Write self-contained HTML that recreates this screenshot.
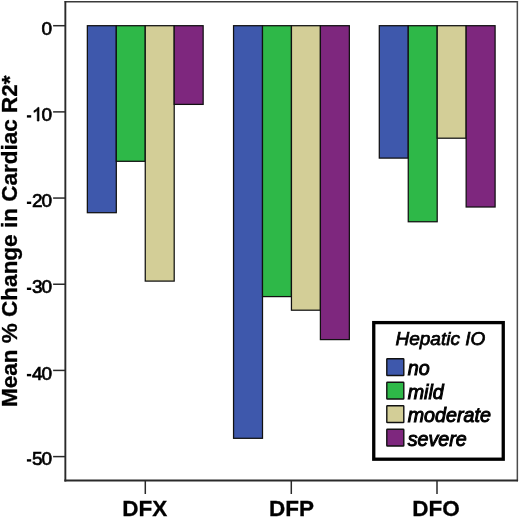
<!DOCTYPE html>
<html>
<head>
<meta charset="utf-8">
<style>
html,body{margin:0;padding:0;background:#fff;width:520px;height:518px;overflow:hidden;}
svg{display:block;will-change:transform;filter:blur(0.3px);}
text{font-family:"Liberation Sans",sans-serif;}
.tl text{font-size:19.0px;}
.tl{fill:#000;stroke:#000;stroke-width:0.7px;}
.tl path{stroke-width:75.5px;}
.cat{font-size:22.5px;font-weight:bold;fill:#000;stroke:#000;stroke-width:0.3px;}
.ttl{font-size:22.5px;font-weight:bold;fill:#000;stroke:#000;stroke-width:0.3px;}
.lg{font-size:19.7px;font-style:italic;fill:#000;stroke:#000;stroke-width:0.95px;}
.lh{font-size:19px;font-style:italic;fill:#000;stroke:#000;stroke-width:0.75px;}
</style>
</head>
<body>
<svg width="520" height="518" viewBox="0 0 520 518">
  <line x1="65.35" y1="1.75" x2="517.35" y2="1.75" stroke="#3a3a3a" stroke-width="1.4" stroke-linecap="square"/>
  <line x1="517.35" y1="1.75" x2="517.35" y2="480.5" stroke="#4c4c4c" stroke-width="1.5" stroke-linecap="square"/>
  <line x1="65.35" y1="1.05" x2="65.35" y2="481.5" stroke="#2a2a2a" stroke-width="1.9"/>
  <line x1="64.35" y1="480.5" x2="518.0500000000001" y2="480.5" stroke="#2a2a2a" stroke-width="1.9"/>
  <g stroke="#2a2a2a" stroke-width="1.5">
    <line x1="53.1" y1="25.70" x2="65.35" y2="25.70"/>
    <line x1="53.1" y1="111.88" x2="65.35" y2="111.88"/>
    <line x1="53.1" y1="198.06" x2="65.35" y2="198.06"/>
    <line x1="53.1" y1="284.24" x2="65.35" y2="284.24"/>
    <line x1="53.1" y1="370.42" x2="65.35" y2="370.42"/>
    <line x1="53.1" y1="456.60" x2="65.35" y2="456.60"/>
  </g>
  <g class="tl">
    <text x="41.48" y="34.80">0</text>
    <text x="41.48" y="121.00">0</text>
    <path transform="translate(31.91,121.00) scale(0.009277,-0.009277)" d="M763 0 L583 0 L583 1147 Q518 1085 416 1024 Q312 964 223 931 L223 1105 Q374 1176 485 1275 Q596 1374 645 1466 L763 1466 Z"/>
    <rect x="26.90" y="115.20" width="4.30" height="2.40" style="stroke:none"/>
    <text x="41.48" y="207.40">0</text>
    <text x="31.91" y="207.40">2</text>
    <rect x="26.90" y="201.60" width="4.30" height="2.40" style="stroke:none"/>
    <text x="41.48" y="293.40">0</text>
    <text x="31.91" y="293.40">3</text>
    <rect x="26.90" y="287.60" width="4.30" height="2.40" style="stroke:none"/>
    <text x="41.48" y="379.70">0</text>
    <text x="31.91" y="379.70">4</text>
    <rect x="26.90" y="373.90" width="4.30" height="2.40" style="stroke:none"/>
    <text x="41.48" y="465.00">0</text>
    <text x="31.91" y="465.00">5</text>
    <rect x="26.90" y="459.20" width="4.30" height="2.40" style="stroke:none"/>
  </g>
  <g stroke="#2a2a2a" stroke-width="1.5">
    <line x1="145.3" y1="480.5" x2="145.3" y2="494"/>
    <line x1="291.3" y1="480.5" x2="291.3" y2="494"/>
    <line x1="437.0" y1="480.5" x2="437.0" y2="494"/>
  </g>
  <g class="cat" text-anchor="middle">
    <text x="144.7" y="516.3">DFX</text>
    <text x="291.4" y="516.3">DFP</text>
    <text x="436.0" y="516.3">DFO</text>
  </g>
  <text class="ttl" transform="translate(17.3,406.9) rotate(-90)">Mean % Change in Cardiac R2*</text>
  <g stroke="#111" stroke-width="1.25">
    <rect x="87.35" y="25.70" width="28.95" height="187.00" fill="#3E58AC"/>
    <rect x="116.30" y="25.70" width="28.95" height="135.60" fill="#2EB848"/>
    <rect x="145.25" y="25.70" width="28.95" height="255.40" fill="#D3CE97"/>
    <rect x="174.20" y="25.70" width="28.95" height="78.70" fill="#7E277E"/>
    <rect x="233.55" y="25.70" width="28.95" height="412.60" fill="#3E58AC"/>
    <rect x="262.50" y="25.70" width="28.95" height="270.90" fill="#2EB848"/>
    <rect x="291.45" y="25.70" width="28.95" height="284.50" fill="#D3CE97"/>
    <rect x="320.40" y="25.70" width="28.95" height="313.90" fill="#7E277E"/>
    <rect x="379.30" y="25.70" width="28.95" height="132.40" fill="#3E58AC"/>
    <rect x="408.25" y="25.70" width="28.95" height="196.05" fill="#2EB848"/>
    <rect x="437.20" y="25.70" width="28.95" height="112.50" fill="#D3CE97"/>
    <rect x="466.15" y="25.70" width="28.95" height="181.30" fill="#7E277E"/>
  </g>
  <rect x="373.75" y="322.6" width="129.5" height="136.6" fill="#fff" stroke="#000" stroke-width="3.3"/>
  <text class="lh" x="395.5" y="344.8">Hepatic IO</text>
  <g stroke="#111" stroke-width="1.4">
    <rect x="386.8" y="358.70" width="17" height="16.8" rx="0.6" fill="#3E58AC"/>
    <rect x="386.8" y="382.20" width="17" height="16.8" rx="0.6" fill="#2EB848"/>
    <rect x="386.8" y="405.70" width="17" height="16.8" rx="0.6" fill="#D3CE97"/>
    <rect x="386.8" y="429.20" width="17" height="16.8" rx="0.6" fill="#7E277E"/>
  </g>
  <g class="lg">
    <text x="407.7" y="375.20">no</text>
    <text x="407.7" y="398.75">mild</text>
    <text x="407.7" y="422.30">moderate</text>
    <text x="407.7" y="445.85">severe</text>
  </g>
</svg>
</body>
</html>
